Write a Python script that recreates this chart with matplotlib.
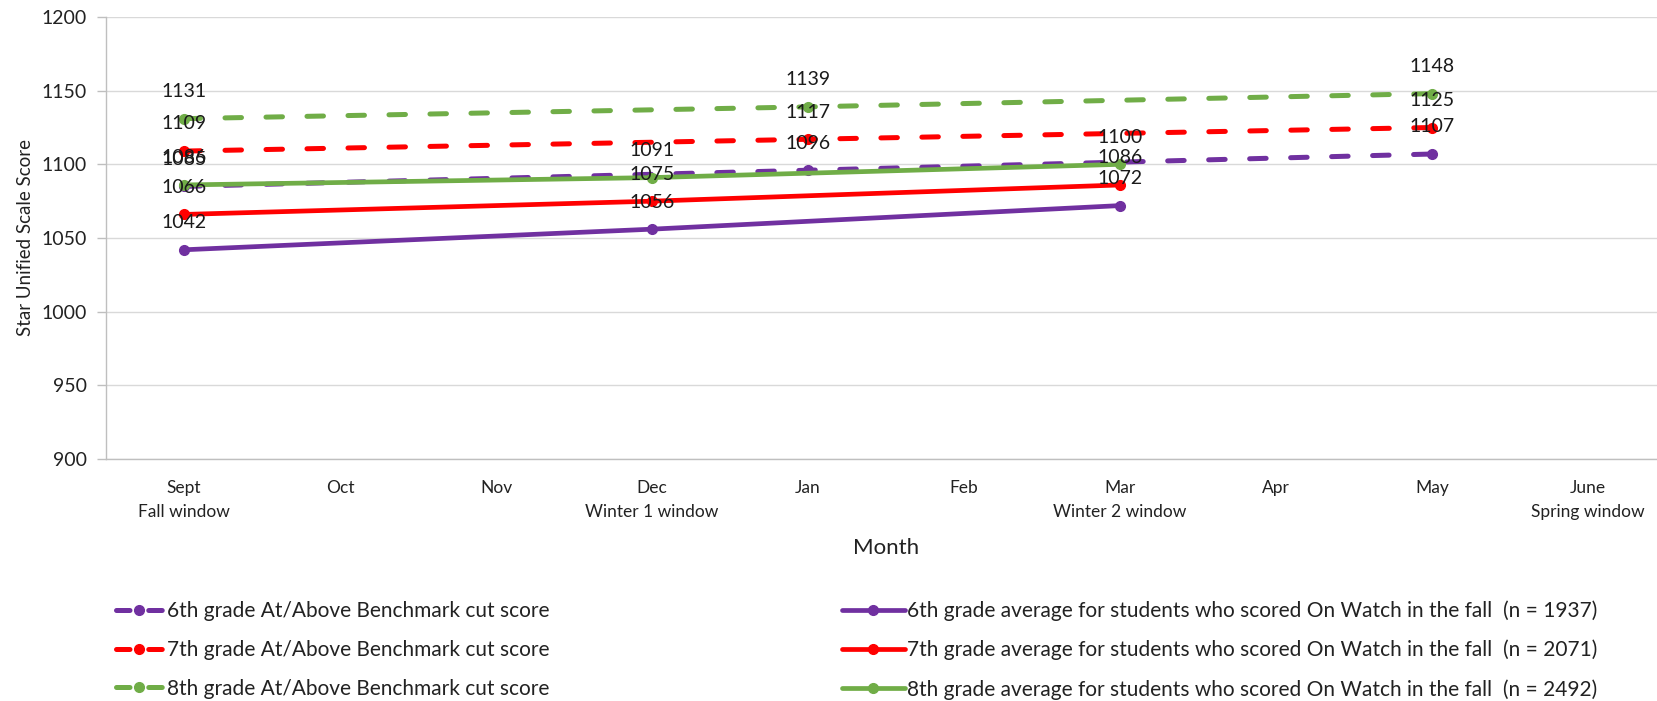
import matplotlib
matplotlib.use("Agg")
import matplotlib.pyplot as plt
from matplotlib.lines import Line2D

plt.rcParams['font.family'] = ['Lato', 'DejaVu Sans']

months = ['Sept', 'Oct', 'Nov', 'Dec', 'Jan', 'Feb', 'Mar', 'Apr', 'May', 'June']
windows = ['Fall window', '', '', 'Winter 1 window', '', '', 'Winter 2 window', '', '', 'Spring window']

bench_months = ['Sept', 'Jan', 'May']
bench_6 = [1085, 1096, 1107]
bench_7 = [1109, 1117, 1125]
bench_8 = [1131, 1139, 1148]

watch_months = ['Sept', 'Dec', 'Mar']
watch_6 = [1042, 1056, 1072]
watch_7 = [1066, 1075, 1086]
watch_8 = [1086, 1091, 1100]

bench_labels = ['6th grade At/Above Benchmark cut score',
                '7th grade At/Above Benchmark cut score',
                '8th grade At/Above Benchmark cut score']
watch_labels = ['6th grade average for students who scored On Watch in the fall  (n = 1937)',
                '7th grade average for students who scored On Watch in the fall  (n = 2071)',
                '8th grade average for students who scored On Watch in the fall  (n = 2492)']

colors = ['#7030A0', '#FF0000', '#70AD47']
text_color = '#222222'

W, H = 1657, 701
fig = plt.figure(figsize=(W / 100, H / 100), dpi=100)
ax = fig.add_axes([106 / W, 1 - 459 / H, (1666 - 106) / W, (459 - 17) / H])

bx = [months.index(m) for m in bench_months]
wx = [months.index(m) for m in watch_months]

handles_b, handles_w = [], []
for vals, c, lab in zip([bench_6, bench_7, bench_8], colors, bench_labels):
    ax.plot(bx, vals, color=c, lw=3.6, ls=(0, (3.3, 4.9)), dash_capstyle='round',
            marker='o', markersize=7, zorder=3)
    handles_b.append(Line2D([], [], color=c, lw=3.6, ls=(0, (2.7, 3.75)), dash_capstyle='round',
                            marker='o', markersize=7, label=lab))
for vals, c, lab in zip([watch_6, watch_7, watch_8], colors, watch_labels):
    ln, = ax.plot(wx, vals, color=c, lw=3.4, marker='o', markersize=7,
                  solid_capstyle='round', label=lab, zorder=4)
    handles_w.append(ln)

for xs, series in [(bx, [bench_6, bench_7, bench_8]), (wx, [watch_6, watch_7, watch_8])]:
    for vals in series:
        for x, v in zip(xs, vals):
            ax.annotate(str(v), (x, v), xytext=(0, 19.5), textcoords='offset points',
                        ha='center', va='center', fontsize=14, color='#1a1a1a', zorder=6)

ax.set_xlim(-0.5, 9.5)
ax.set_ylim(900, 1200)
ax.set_yticks(range(900, 1201, 50))
ax.set_xticks(range(len(months)))
ax.set_xticklabels([m + '\n' + w for m, w in zip(months, windows)], fontsize=12.5, color=text_color,
                   linespacing=1.6)
ax.tick_params(axis='x', length=0, pad=15)
ax.tick_params(axis='y', length=6.5, width=1, color='#BFBFBF', labelsize=14, labelcolor=text_color, pad=7.5)
ax.grid(axis='y', color='#D9D9D9', lw=1)
ax.set_axisbelow(True)
for s in ['top', 'right']:
    ax.spines[s].set_visible(False)
for s in ['left', 'bottom']:
    ax.spines[s].set_color('#BFBFBF')
    ax.spines[s].set_linewidth(1)

ax.set_ylabel('Star Unified Scale Score', fontsize=13.5, color=text_color, labelpad=5)
fig.text(886 / W, 1 - 548 / H, 'Month', ha='center', va='center', fontsize=16, color=text_color)

common = dict(frameon=False, fontsize=15, labelspacing=0.9, borderpad=0, borderaxespad=0, numpoints=1)
leg1 = fig.legend(handles=handles_b, loc='center left', bbox_to_anchor=(116 / W, 1 - 650 / H),
                  handlelength=2.2, handletextpad=0.25, **common)
leg2 = fig.legend(handles=handles_w, loc='center left', bbox_to_anchor=(842 / W, 1 - 650 / H),
                  handlelength=3.0, handletextpad=0.12, **common)
for leg in (leg1, leg2):
    for t in leg.get_texts():
        t.set_color(text_color)

fig.savefig('out.png', dpi=100)
